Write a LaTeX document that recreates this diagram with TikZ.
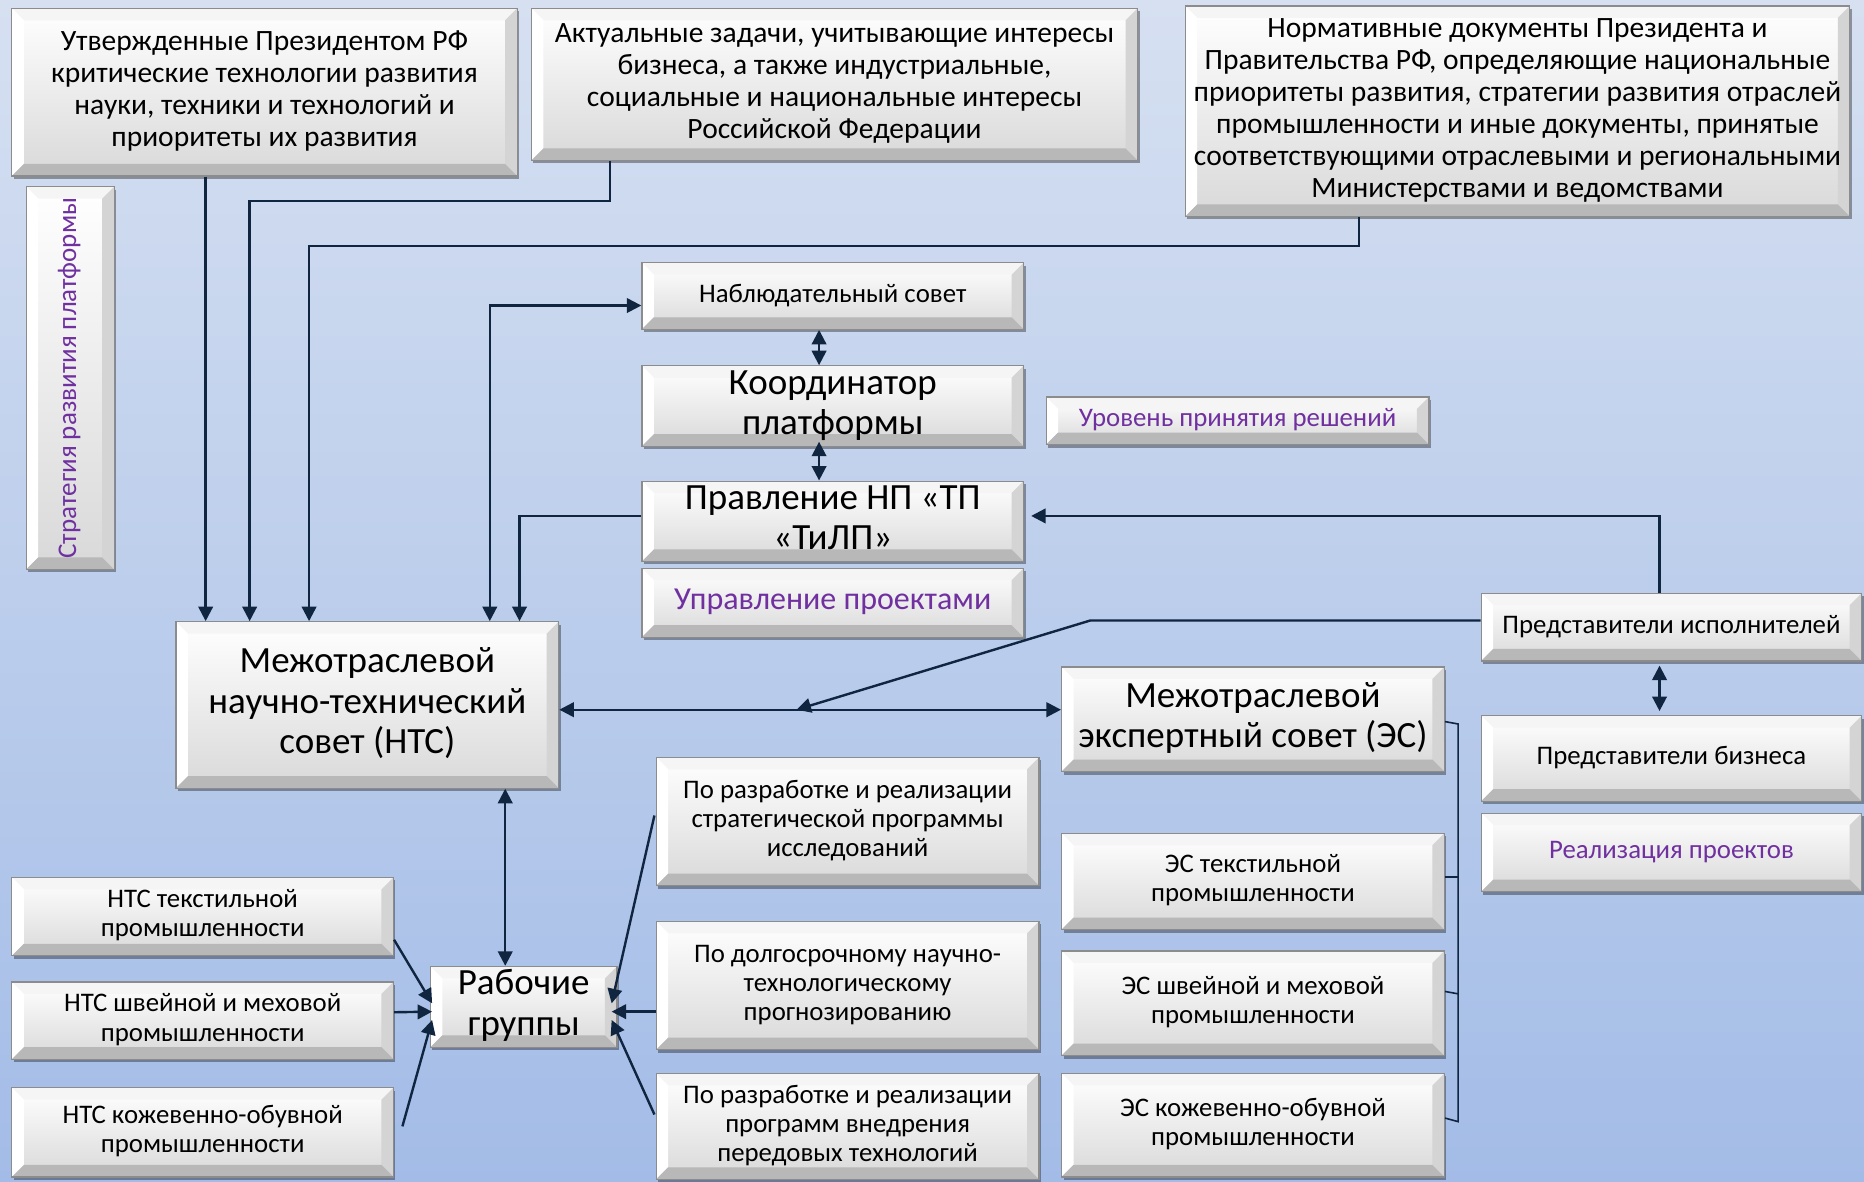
\documentclass[tikz,border=0pt]{standalone}
\usepackage{fontspec}
\setmainfont{Carlito}
\usetikzlibrary{arrows.meta,shadows,fit,calc}
\definecolor{navy}{RGB}{16,37,63}
\definecolor{purp}{RGB}{112,48,160}
\definecolor{bgtop}{RGB}{214,224,241}
\definecolor{bgbot}{RGB}{163,188,231}
\newcommand\fsz[2]{\fontsize{#1}{#2}\selectfont}
\newcommand\tb[1]{\raisebox{-\height}{\begin{tabular}{@{}c@{}}#1\end{tabular}}}
\newcommand\bevw{12pt}
\begin{document}
\begin{tikzpicture}[x=1.1888pt,y=-1.1888pt,
  box/.style={draw=black!45, line width=1.2pt, top color=white, bottom color=black!15,
    inner sep=0pt, text=black,
    drop shadow={shadow xshift=2pt,shadow yshift=-3pt,opacity=0.35,fill=black},
    path picture={
      \path (path picture bounding box.north west) coordinate (pnw)
            (path picture bounding box.north east) coordinate (pne)
            (path picture bounding box.south west) coordinate (psw)
            (path picture bounding box.south east) coordinate (pse);
      \fill[black!4] (pnw) -- (pne) -- ([shift={(-\bevw,-\bevw)}]pne) -- ([shift={(\bevw,-\bevw)}]pnw) -- cycle;
      \fill[white] (pnw) -- (psw) -- ([shift={(\bevw,\bevw)}]psw) -- ([shift={(\bevw,-\bevw)}]pnw) -- cycle;
      \fill[black!17] (pne) -- (pse) -- ([shift={(-\bevw,\bevw)}]pse) -- ([shift={(-\bevw,-\bevw)}]pne) -- cycle;
      \fill[black!28] (psw) -- (pse) -- ([shift={(-\bevw,\bevw)}]pse) -- ([shift={(\bevw,\bevw)}]psw) -- cycle;
    }},
  big/.style={box, font=\fsz{29.5}{32}},
  mid/.style={box, font=\fsz{37}{40.5}},
  sml/.style={box, font=\fsz{26.8}{29.2}},
  one/.style={box, font=\fsz{26.8}{30}},
  lbl/.style={box, text=purp},
  ar/.style={draw=navy, line width=2.4pt, -{Triangle[length=14.5pt,width=14.5pt]}},
  arr/.style={draw=navy, line width=2.4pt, {Triangle[length=14.5pt,width=14.5pt]}-{Triangle[length=14.5pt,width=14.5pt]}},
  br/.style={draw=navy, line width=1.6pt},
]
\useasboundingbox (0,0) rectangle (1568,994);
\clip (0,0) rectangle (1568,994);
\fill[top color=bgtop, bottom color=bgbot] (0,0) rectangle (1568,994);

% top sources
\node[big, fit={(10,7)(435,148)}] (A) {\tb{Утвержденные Президентом РФ\\критические технологии развития\\науки, техники и технологий и\\приоритеты их развития}};
\node[big, fit={(447,7)(957,135)}] (B) {\tb{Актуальные задачи, учитывающие интересы\\бизнеса, а также индустриальные,\\социальные и национальные интересы\\Российской Федерации}};
\node[big, fit={(997,5)(1556,182)}] (C) {\tb{Нормативные документы Президента и\\Правительства РФ, определяющие национальные\\приоритеты развития, стратегии развития отраслей\\промышленности и иные документы, принятые\\соответствующими отраслевыми и региональными\\Министерствами и ведомствами}};

\node[lbl, fit={(22,157)(96,479)}] (V) {};
\node[text=purp, rotate=90, font=\fsz{27}{30}] (Vt) at ([xshift=-1pt]V.center) {Стратегия развития платформы};

% decision level
\node[one, fit={(540,221)(861,277)}] (Nab) {\tb{Наблюдательный совет}};
\node[mid, fit={(540,308)(861,375)}] (Koord) {\tb{Координатор\\платформы}};
\node[lbl, font=\fsz{26.8}{30}, fit={(880,334)(1202,374)}] (Ur) {\tb{Уровень принятия решений}};
\node[mid, fit={(540,405)(861,472)}] (Prav) {\tb{Правление НП «ТП\\«ТиЛП»}};
\node[lbl, font=\fsz{32}{36}, fit={(540,478)(861,536)}] (Upr) {\tb{Управление проектами}};

% councils
\node[mid, fit={(148,523)(470,663)}] (NTS) {\tb{Межотраслевой\\научно-технический\\совет (НТС)}};
\node[mid, fit={(893,561)(1215,649)}] (ES) {\tb{Межотраслевой\\экспертный совет (ЭС)}};

% right column
\node[one, fit={(1246,499)(1566,556)}] (PredIsp) {\tb{Представители исполнителей}};
\node[one, fit={(1246,602)(1566,674)}] (PredBiz) {\tb{Представители бизнеса}};
\node[lbl, font=\fsz{26.8}{30}, fit={(1246,684)(1566,750)}] (Real) {\tb{Реализация проектов}};

% working groups
\node[sml, fit={(552,637)(874,745)}] (Po1) {\tb{По разработке и реализации\\стратегической программы\\исследований}};
\node[sml, fit={(552,775)(874,883)}] (Po2) {\tb{По долгосрочному научно-\\технологическому\\прогнозированию}};
\node[sml, fit={(552,903)(874,992)}] (Po3) {\tb{По разработке и реализации\\программ внедрения\\передовых технологий}};

\node[sml, fit={(10,738)(331,804)}] (NTSt) {\tb{НТС текстильной\\промышленности}};
\node[sml, fit={(10,826)(331,891)}] (NTSs) {\tb{НТС швейной и меховой\\промышленности}};
\node[sml, fit={(10,915)(331,990)}] (NTSk) {\tb{НТС кожевенно-обувной\\промышленности}};

\node[mid, fit={(362,813)(519,881)}] (RG) {\tb{Рабочие\\группы}};

\node[sml, fit={(893,701)(1215,782)}] (ESt) {\tb{ЭС текстильной\\промышленности}};
\node[sml, fit={(893,800)(1215,888)}] (ESs) {\tb{ЭС швейной и меховой\\промышленности}};
\node[sml, fit={(893,903)(1215,990)}] (ESk) {\tb{ЭС кожевенно-обувной\\промышленности}};

% helper coordinates
\coordinate (xa) at (173,0);
\coordinate (xb) at (210,0);
\coordinate (xc) at (260,0);
\coordinate (xd) at (412,0);
\coordinate (xe) at (437,0);
\coordinate (xm) at (689,0);
\coordinate (xr) at (1396,0);
\coordinate (xg) at (425,0);
\coordinate (xB) at (513,0);
\coordinate (xC) at (1143,0);
\coordinate (yb) at (0,169);
\coordinate (yc) at (0,207);
\coordinate (yn) at (0,257);
\coordinate (yp) at (0,434);
\coordinate (ym) at (0,597);
\coordinate (bend) at (917,522);
\coordinate (tip) at (670,597);

% connectors
\draw[ar] (xa |- A.south) -- (xa |- NTS.north);
\draw[ar] (xB |- B.south) -- (xB |- yb) -- (xb |- yb) -- (xb |- NTS.north);
\draw[ar] (xC |- C.south) -- (xC |- yc) -- (xc |- yc) -- (xc |- NTS.north);
\draw[arr] (xd |- NTS.north) -- (xd |- yn) -- (Nab.west |- yn);
\draw[ar] (Prav.west |- yp) -- (xe |- yp) -- (xe |- NTS.north);
\draw[arr] (xm |- Nab.south) -- (xm |- Koord.north);
\draw[arr] ([yshift=5pt]xm |- Koord.south) -- (xm |- Prav.north);
\draw[ar, shorten >=7pt] (xr |- PredIsp.north) -- (xr |- yp) -- (Prav.east |- yp);
\draw[ar] (PredIsp.west |- bend) -- (bend) -- (tip);
\draw[arr] (NTS.east |- ym) -- (ES.west |- ym);
\draw[arr, shorten <=4pt, shorten >=4pt] (xr |- PredIsp.south) -- (xr |- PredBiz.north);
\draw[arr] (xg |- NTS.south) -- (xg |- RG.north);

\draw[ar] ($(NTSt.south east)+(0,-14)$) -- ($(RG.west)+(2,-3)$);
\draw[ar] ($(NTSs.east)+(0,-7)$) -- ($(RG.west)+(2,4)$);
\draw[ar] ($(NTSk.east)+(7,-5)$) -- ($(RG.west)+(2,11)$);
\draw[ar] ($(Po1.west)+(-1,-5)$) -- ($(RG.east)+(-5,-3)$);
\draw[ar] ($(Po2.west)+(0,22)$) -- ($(RG.east)+(-5,4)$);
\draw[ar] ($(Po3.west)+(-1,-10)$) -- ($(RG.east)+(-5,11)$);

% bracket to ES sub-councils
\draw[br] ($(ES.east)+(0,2)$) -- ($(ES.east)+(11,4)$) -- ($(ESk.east)+(11,-3)$) -- ($(ESk.east)+(0,-6)$);
\draw[br] ($(ESt.east)+(0,-4)$) -- ($(ESt.east)+(11,-4)$);
\draw[br] ($(ESs.east)+(0,-10)$) -- ($(ESs.east)+(11,-8)$);
\end{tikzpicture}
\end{document}
